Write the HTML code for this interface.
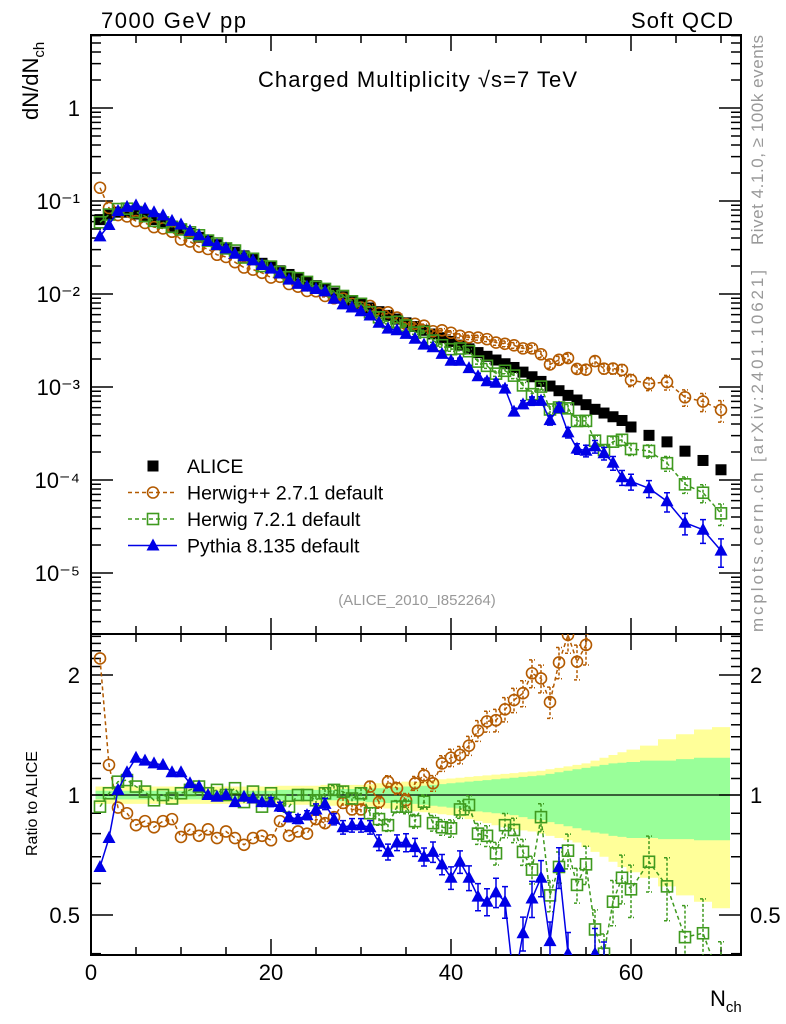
<!DOCTYPE html>
<html><head><meta charset="utf-8"><style>
html,body{margin:0;padding:0;background:#fff;overflow:hidden;width:786px;height:1024px;}
svg{display:block;font-family:"Liberation Sans",sans-serif;}
</style></head><body>
<svg id="chart" width="786" height="1024" viewBox="0 0 786 1024" xmlns="http://www.w3.org/2000/svg">
<text x="101" y="28" font-size="22" textLength="145">7000 GeV pp</text>
<text x="631" y="28" font-size="22" textLength="102">Soft QCD</text>
<text x="258" y="87" font-size="22" textLength="319">Charged Multiplicity √s=7 TeV</text>
<text transform="translate(38,120) rotate(-90)" font-size="22">dN/dN<tspan font-size="15" dy="6">ch</tspan></text>
<text transform="translate(37,856) rotate(-90)" font-size="16">Ratio to ALICE</text>
<text x="710" y="1006" font-size="22">N<tspan font-size="15" dy="6">ch</tspan></text>
<text transform="translate(763,245) rotate(-90)" font-size="17" fill="#999" textLength="210">Rivet 4.1.0, ≥ 100k events</text>
<text transform="translate(763,632) rotate(-90)" font-size="17" fill="#999" textLength="362">mcplots.cern.ch [arXiv:2401.10621]</text>
<text x="417" y="605" font-size="15" fill="#999" text-anchor="middle">(ALICE_2010_I852264)</text>
<g id="bands"></g><g id="axes"></g><g id="series"></g><g id="legend"></g>
</svg>
<script>
// ---- data ----
const nch = [1,2,3,4,5,6,7,8,9,10,11,12,13,14,15,16,17,18,19,20,21,22,23,24,25,26,27,28,29,30,31,32,33,34,35,36,37,38,39,40,41,42,43,44,45,46,47,48,49,50,51,52,53,54,55,56,57,58,59,60,62,64,66,68,70];
const aliceLog = [-1.20,-1.15,-1.12,-1.12,-1.14,-1.17,-1.20,-1.23,-1.27,-1.31,-1.35,-1.39,-1.43,-1.47,-1.51,-1.55,-1.59,-1.63,-1.67,-1.71,-1.75,-1.79,-1.83,-1.87,-1.91,-1.95,-1.99,-2.03,-2.07,-2.11,-2.15,-2.19,-2.23,-2.27,-2.31,-2.35,-2.39,-2.43,-2.47,-2.51,-2.55,-2.59,-2.63,-2.67,-2.71,-2.75,-2.79,-2.84,-2.89,-2.94,-2.99,-3.04,-3.09,-3.14,-3.19,-3.24,-3.28,-3.32,-3.36,-3.43,-3.52,-3.59,-3.69,-3.79,-3.89];
const ratioHwpp = [2.2,1.19,0.93,0.90,0.84,0.86,0.83,0.86,0.87,0.785,0.82,0.79,0.82,0.78,0.81,0.78,0.75,0.78,0.79,0.77,0.86,0.79,0.81,0.80,0.87,0.85,0.88,0.955,0.92,0.92,1.05,0.96,1.08,1.04,0.97,1.07,1.12,1.07,1.20,1.24,1.26,1.33,1.45,1.53,1.54,1.64,1.73,1.80,2.02,1.96,1.71,2.15,2.52,2.16,2.38,3.3,3.0,3.3,3.5,3.2,3.6,4.4,3.8,4.3,4.4];
const ratioHw7 = [0.935,1.01,1.08,1.09,1.05,1.02,0.97,1.0,0.98,1.01,1.03,1.05,1.01,1.03,1.0,1.04,0.96,1.02,0.935,1.01,0.97,0.935,1.0,1.0,0.97,1.01,1.03,1.02,0.98,1.01,0.90,0.87,0.84,0.935,0.935,0.86,0.962,0.85,0.83,0.825,0.92,0.944,0.80,0.79,0.714,0.84,0.817,0.72,0.65,0.88,0.56,0.66,0.725,0.595,0.67,0.46,0.40,0.54,0.62,0.58,0.68,0.59,0.44,0.45,0.34];
const ratioPy = [0.66,0.78,1.03,1.14,1.24,1.22,1.20,1.19,1.14,1.14,1.07,1.05,1.0,0.99,1.0,0.96,0.99,0.98,0.96,0.96,0.935,0.88,0.87,0.89,0.92,0.95,0.87,0.83,0.84,0.84,0.83,0.76,0.72,0.76,0.76,0.74,0.70,0.72,0.67,0.62,0.68,0.62,0.556,0.54,0.57,0.54,0.335,0.45,0.55,0.62,0.43,0.66,0.40,0.30,0.32,0.40,0.37,0.32,0.245,0.26,0.27,0.23,0.17,0.18,0.135];
const mcRelErr = [0.01,0.01,0.01,0.01,0.01,0.01,0.01,0.01,0.01,0.01,0.01,0.01,0.01,0.01,0.01,0.01,0.015,0.015,0.015,0.02,0.02,0.02,0.02,0.02,0.025,0.025,0.025,0.03,0.03,0.03,0.03,0.035,0.035,0.035,0.04,0.04,0.04,0.045,0.045,0.05,0.05,0.055,0.06,0.06,0.065,0.07,0.07,0.075,0.08,0.08,0.09,0.09,0.1,0.1,0.11,0.12,0.12,0.13,0.14,0.15,0.16,0.18,0.2,0.22,0.26];
const bandYHi = [1.05,1.05,1.05,1.05,1.05,1.05,1.05,1.05,1.05,1.05,1.05,1.05,1.05,1.05,1.05,1.05,1.05,1.05,1.05,1.05,1.055,1.055,1.055,1.055,1.055,1.06,1.06,1.06,1.06,1.06,1.065,1.07,1.07,1.075,1.08,1.08,1.085,1.09,1.095,1.10,1.105,1.11,1.115,1.12,1.125,1.13,1.135,1.14,1.145,1.15,1.16,1.17,1.18,1.19,1.20,1.22,1.24,1.26,1.28,1.30,1.33,1.38,1.42,1.46,1.48];
const bandYLo = [0.95,0.95,0.95,0.95,0.95,0.95,0.95,0.95,0.95,0.95,0.95,0.95,0.95,0.95,0.95,0.95,0.95,0.95,0.95,0.95,0.945,0.945,0.945,0.945,0.945,0.94,0.94,0.94,0.94,0.94,0.935,0.93,0.925,0.92,0.915,0.91,0.905,0.90,0.895,0.89,0.88,0.87,0.86,0.85,0.84,0.83,0.82,0.815,0.81,0.80,0.79,0.78,0.77,0.76,0.74,0.72,0.70,0.68,0.66,0.64,0.62,0.59,0.56,0.54,0.52];
const bandGHi = [1.025,1.025,1.025,1.025,1.025,1.025,1.025,1.025,1.025,1.025,1.025,1.025,1.025,1.025,1.025,1.025,1.025,1.025,1.025,1.025,1.03,1.03,1.03,1.03,1.03,1.03,1.03,1.035,1.035,1.035,1.04,1.04,1.045,1.045,1.05,1.05,1.055,1.06,1.065,1.07,1.075,1.08,1.085,1.09,1.095,1.10,1.105,1.11,1.115,1.12,1.13,1.14,1.15,1.16,1.17,1.18,1.19,1.20,1.205,1.21,1.22,1.22,1.23,1.24,1.24];
const bandGLo = [0.975,0.975,0.975,0.975,0.975,0.975,0.975,0.975,0.975,0.975,0.975,0.975,0.975,0.975,0.975,0.975,0.975,0.975,0.975,0.975,0.97,0.97,0.97,0.97,0.97,0.97,0.97,0.965,0.965,0.965,0.96,0.96,0.955,0.955,0.95,0.95,0.945,0.94,0.935,0.93,0.925,0.92,0.91,0.905,0.90,0.895,0.89,0.88,0.87,0.865,0.855,0.845,0.835,0.825,0.815,0.805,0.80,0.79,0.785,0.78,0.78,0.775,0.775,0.77,0.77];
const xTicks = [0,20,40,60];
const mainYTicks = [0,-1,-2,-3,-4,-5];
const mainYLabels = ["1","10⁻¹","10⁻²","10⁻³","10⁻⁴","10⁻⁵"];
const ratioTicks = [0.5,1,2];
const ratioLabels = ["0.5","1","2"];

// ---- geometry ----
const L=91,R=741,T=35,MB=634,RB=955;
const X = n => L + 9*n;
const Ym = lg => 108 - 93*lg;
const Yr = r => 795 - 398.7*Math.log10(r);
const NS="http://www.w3.org/2000/svg";
function mk(tag, attrs, parent){const e=document.createElementNS(NS,tag);for(const k in attrs)e.setAttribute(k,attrs[k]);parent.appendChild(e);return e;}
const gB=document.getElementById('bands'),gA=document.getElementById('axes'),gS=document.getElementById('series'),gL=document.getElementById('legend');

const defs=mk('defs',{},gA.parentNode);
const c1=mk('clipPath',{id:'cm'},defs);mk('rect',{x:L,y:T,width:R-L,height:MB-T},c1);
const c2=mk('clipPath',{id:'cr'},defs);mk('rect',{x:L,y:MB,width:R-L,height:RB-MB},c2);

function bandPath(hi,lo){
  const up=[],dn=[];
  for(let i=0;i<nch.length;i++){
    const w = i<nch.length-1 ? (nch[i+1]-nch[i]) : 2;
    const wp = i>0 ? (nch[i]-nch[i-1]) : 1;
    const x0=X(nch[i]-wp/2), x1=X(nch[i]+w/2);
    up.push(`${x0},${Yr(hi[i])}`,`${x1},${Yr(hi[i])}`);
    dn.push(`${x0},${Yr(lo[i])}`,`${x1},${Yr(lo[i])}`);
  }
  dn.reverse();
  return 'M'+up.concat(dn).join('L')+'Z';
}
const by=mk('path',{d:bandPath(bandYHi,bandYLo),fill:'#ffff99','clip-path':'url(#cr)'},gB);


const bg=mk('path',{d:bandPath(bandGHi,bandGLo),fill:'#99ff99','clip-path':'url(#cr)'},gB);


const one=mk('line',{x1:L,x2:R,y1:Yr(1),y2:Yr(1),stroke:'#000','stroke-width':1.2},gB);



const f1=mk('rect',{x:L,y:T,width:R-L,height:MB-T,fill:'none',stroke:'#000','stroke-width':2},gA);


const f2=mk('rect',{x:L,y:MB,width:R-L,height:RB-MB,fill:'none',stroke:'#000','stroke-width':2},gA);


function tick(x1,y1,x2,y2){mk('line',{x1,y1,x2,y2,stroke:'#000','stroke-width':1.5},gA);}
for(let n=0;n<=72;n+=5){
  const x=X(n), maj=(n%20===0), len=maj?16:8;
  [[T,1],[MB,-1],[MB,1],[RB,-1]].forEach(([y,d])=>tick(x,y,x,y+d*len));
}
xTicks.forEach(v=>{const t=mk('text',{x:X(v),y:980,'font-size':22,'text-anchor':'middle'},gA);t.textContent=String(v);

});
for(let d=0;d>=-6;d--){
  for(let m=1;m<10;m++){
    const y=Ym(d+Math.log10(m));
    if(y<T||y>MB)continue;
    const len=m===1?22:10;
    tick(L,y,L+len,y);tick(R,y,R-len,y);
  }
}
mainYTicks.forEach((d,i)=>{const t=mk('text',{x:80,y:Ym(d)+8,'font-size':22,'text-anchor':'end'},gA);t.textContent=mainYLabels[i];

});
for(let r=0.4;r<=2.6;r+=0.1){
  const rr=Math.round(r*10)/10,y=Yr(rr);
  if(y<MB||y>RB)continue;
  const maj=(rr===0.5||rr===1||rr===2),len=maj?22:10;
  tick(L,y,L+len,y);tick(R,y,R-len,y);
}
ratioTicks.forEach((v,i)=>{
  const a=mk('text',{x:80,y:Yr(v)+8,'font-size':22,'text-anchor':'end'},gA);a.textContent=ratioLabels[i];
  
  
  const b=mk('text',{x:750,y:Yr(v)+8,'font-size':22},gA);b.textContent=ratioLabels[i];
  
  
});

function marker(kind,x,y,color,parent){
  if(kind==='sq') return mk('rect',{x:x-5.5,y:y-5.5,width:11,height:11,fill:'#000'},parent);
  if(kind==='circ') return mk('circle',{cx:x,cy:y,r:5.5,fill:'none',stroke:color,'stroke-width':1.6},parent);
  if(kind==='osq') return mk('rect',{x:x-5.5,y:y-5.5,width:11,height:11,fill:'none',stroke:color,'stroke-width':1.6},parent);
  return mk('polygon',{points:`${x},${y-7} ${x-6.5},${y+5} ${x+6.5},${y+5}`,fill:color},parent);
}
const series=[
  {name:'herwigpp',ratio:ratioHwpp,color:'#b35a00',kind:'circ',dash:'4,3',label:'Herwig++ 2.7.1 default'},
  {name:'herwig7',ratio:ratioHw7,color:'#3f9a1f',kind:'osq',dash:'4,3',label:'Herwig 7.2.1 default'},
  {name:'pythia8',ratio:ratioPy,color:'#0000e6',kind:'tri',dash:null,label:'Pythia 8.135 default'}
];
const ga=mk('g',{'clip-path':'url(#cm)'},gS);


nch.forEach((n,i)=>{const m=marker('sq',X(n),Ym(aliceLog[i]),'#000',ga);

});

series.forEach(s=>{
  [['main','url(#cm)'],['ratio','url(#cr)']].forEach(([panel,clip])=>{
    const g=mk('g',{'clip-path':clip},gS);
    
    
    const ys=nch.map((n,i)=>panel==='main'?Ym(aliceLog[i]+Math.log10(s.ratio[i])):Yr(s.ratio[i]));
    const pts=nch.map((n,i)=>`${X(n)},${ys[i]}`).join(' ');
    const pl=mk('polyline',{points:pts,fill:'none',stroke:s.color,'stroke-width':1.5},g);
    if(s.dash)pl.setAttribute('stroke-dasharray',s.dash);
    
    
    nch.forEach((n,i)=>{
      const e=mcRelErr[i]*(s.name==='pythia8'?1.3:1);
      if(e>0.02){
        let yh,yl;
        if(panel==='main'){const v=aliceLog[i]+Math.log10(s.ratio[i]);yh=Ym(v+Math.log10(1+e));yl=Ym(v+Math.log10(Math.max(1-e,0.05)));}
        else{yh=Yr(s.ratio[i]*(1+e));yl=Yr(Math.max(s.ratio[i]*(1-e),0.01));}
        const eb=mk('path',{d:`M${X(n)},${yh}L${X(n)},${yl}M${X(n)-3},${yh}L${X(n)+3},${yh}M${X(n)-3},${yl}L${X(n)+3},${yl}`,stroke:s.color,'stroke-width':1.5,fill:'none'},g);
        if(s.dash)eb.setAttribute('stroke-dasharray','3,2');
        
        
      }
      const m=marker(s.kind,X(n),ys[i],s.color,g);
      
      
    });
  });
});

const legRows=[{label:'ALICE',kind:'sq',color:'#000',dash:null,line:false,name:'legend-alice'}]
  .concat(series.map(s=>({label:s.label,kind:s.kind,color:s.color,dash:s.dash,line:true,name:'legend-'+s.name})));
legRows.forEach((r,i)=>{
  const y=466+26.5*i;
  const g=mk('g',{},gL);
  
  
  if(r.line){const l=mk('line',{x1:128,x2:177,y1:y,y2:y,stroke:r.color,'stroke-width':1.5},g);if(r.dash)l.setAttribute('stroke-dasharray',r.dash);}
  marker(r.kind,153,y,r.color,g);
  const t=mk('text',{x:187,y:y+7,'font-size':19.5},g);t.textContent=r.label;
});
</script>
</body></html>
